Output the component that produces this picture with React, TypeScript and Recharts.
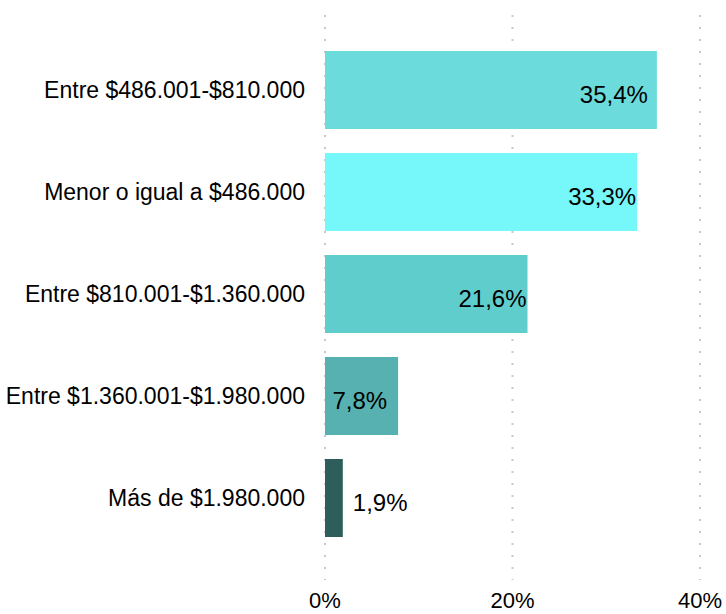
import React from 'react';
import { BarChart, Bar, XAxis, YAxis, CartesianGrid, Cell, LabelList } from 'recharts';

const categories = [
  'Entre $486.001-$810.000',
  'Menor o igual a $486.000',
  'Entre $810.001-$1.360.000',
  'Entre $1.360.001-$1.980.000',
  'Más de $1.980.000',
];
const shares = [35.4, 33.3, 21.6, 7.8, 1.9];
const barColors = ['#6bdbdb', '#76f7f9', '#60cdcd', '#57b1b0', '#2d5e5c'];
const xTicks = [0, 20, 40];

// how far each value label sits in from the end of its bar (negative = outside)
const labelInset = [9, 1, 1, 11, -10];

const FONT = '"Liberation Sans", Arial, sans-serif';

const chartData = categories.map((name, i) => ({ name, value: shares[i] }));

const fmt = (v: number) => `${v.toFixed(1).replace('.', ',')}%`;

function ValueLabel(props: any) {
  const { x, y, width, height, value, index } = props;
  const inset = labelInset[index] ?? 9;
  const inside = inset >= 0;
  return (
    <text
      x={x + width - inset}
      y={y + height / 2 + 13}
      textAnchor={inside ? 'end' : 'start'}
      fontSize={24}
      fontFamily={FONT}
      fill="#000"
    >
      {fmt(value)}
    </text>
  );
}

export default function App() {
  return (
    <div style={{ position: 'absolute', left: 0, top: 0, background: '#fff' }}>
      <BarChart
        width={726}
        height={614}
        data={chartData}
        layout="vertical"
        margin={{ top: 15, right: 26, bottom: 0, left: 0 }}
      >
        <CartesianGrid horizontal={false} stroke="#c8c8c8" strokeWidth={2} strokeDasharray="2 10" />
        <XAxis
          type="number"
          domain={[0, 40]}
          ticks={xTicks}
          tickFormatter={v => `${v}%`}
          axisLine={false}
          tickLine={false}
          tickSize={0}
          tickMargin={12}
          height={34}
          interval={0}
          tick={{ fontSize: 22, fill: '#000', fontFamily: FONT }}
        />
        <YAxis
          type="category"
          dataKey="name"
          width={325}
          axisLine={false}
          tickLine={false}
          tickSize={0}
          tickMargin={20}
          padding={{ top: 24, bottom: 31 }}
          interval={0}
          tick={{ fontSize: 23, fill: '#000', fontFamily: FONT }}
        />
        <Bar dataKey="value" barSize={78} isAnimationActive={false}>
          {chartData.map((d, i) => (
            <Cell key={d.name} fill={barColors[i]} />
          ))}
          <LabelList dataKey="value" content={ValueLabel} />
        </Bar>
      </BarChart>
    </div>
  );
}
